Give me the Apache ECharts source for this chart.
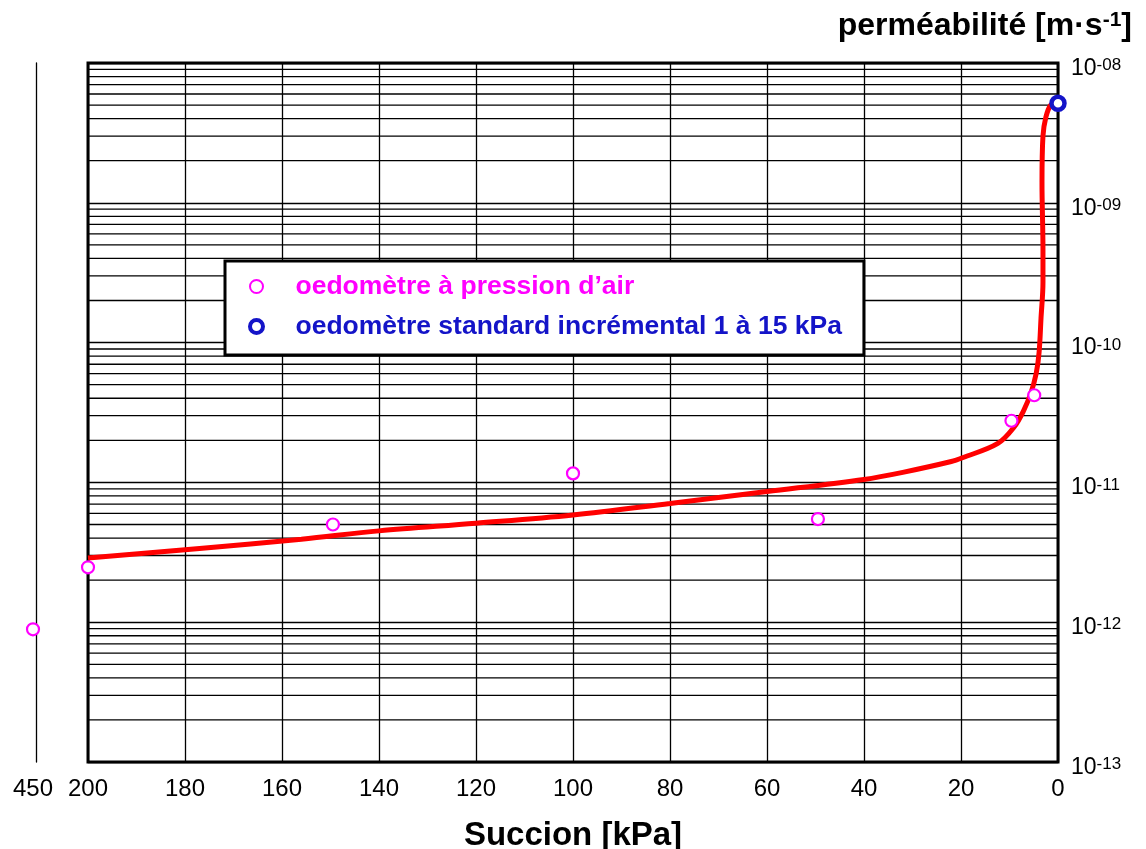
<!DOCTYPE html>
<html>
<head>
<meta charset="utf-8">
<script src="https://cdn.jsdelivr.net/npm/echarts@6/dist/echarts.min.js"></script>
<style>
  html, body { margin: 0; background: #fff; }
  #chart { width: 1146px; height: 849px; }
</style>
</head>
<body>
<div id="chart"></div>
<script>
// fitted curve (suction kPa, permeability m/s)
const curveSuction = [200, 177, 156, 140, 120, 100, 80, 60, 40, 32, 22, 19.7, 12.4, 9.0, 7.2, 5.6, 4.5, 3.9, 3.5, 3.1, 3.1, 3.3, 3.1, 2.5, 1.5, 0.5];
const curvePerm = [2.88e-12, 3.37e-12, 3.92e-12, 4.5e-12, 5.1e-12, 5.85e-12, 7.07e-12, 8.6e-12, 1.05e-11, 1.18e-11, 1.41e-11, 1.5e-11, 1.9e-11, 2.5e-11, 3.2e-11, 4.34e-11, 6.0e-11, 8.5e-11, 1.5e-10, 2.7e-10, 4.6e-10, 1.4e-9, 3.0e-9, 4.1e-9, 5.0e-9, 5.1e-9];

// oedometre a pression d'air
const airSuction = [200, 149.5, 100, 49.5, 9.6, 4.9];
const airPerm = [2.47e-12, 5.0e-12, 1.16e-11, 5.47e-12, 2.76e-11, 4.2e-11];
const farSuction = [450];
const farPerm = [8.9e-13];

// oedometre standard incremental
const stdSuction = [0];
const stdPerm = [5.15e-9];

const decades = [-13, -12, -11, -10, -9];
const minorSteps = [2, 3, 4, 5, 6, 7, 8, 9];

const airName = 'oedomètre à pression d\u2019air';
const stdName = 'oedomètre standard incrémental 1 à 15 kPa';
const magenta = '#ff00ff';
const blue = '#1414c8';
const font = 'Liberation Sans, Arial, sans-serif';

function zip(a, b) { return a.map((v, i) => [v, b[i]]); }

// minor log grid lines 2..9 in each decade
const minorValues = [];
decades.forEach(e => minorSteps.forEach(m => minorValues.push([0, m * Math.pow(10, e)])));

const chart = echarts.init(document.getElementById('chart'));

const option = {
  backgroundColor: '#fff',
  animation: false,
  textStyle: { fontFamily: font, color: '#000' },
  title: {
    text: '{t|perméabilité [m·s}{s|-1}{t|]}',
    right: 9,
    top: 5,
    textStyle: {
      rich: {
        t: { fontSize: 32, fontWeight: 'bold', fontFamily: font, color: '#000', lineHeight: 32 },
        s: { fontSize: 21, fontWeight: 'bold', fontFamily: font, color: '#000', lineHeight: 12, verticalAlign: 'top' }
      }
    }
  },
  legend: {
    orient: 'vertical',
    left: 225,
    top: 261,
    padding: [12, 22, 15, 23],
    itemGap: 13,
    itemWidth: 40,
    itemHeight: 13,
    backgroundColor: '#fff',
    borderColor: '#000',
    borderWidth: 3,
    borderRadius: 0,
    selectedMode: false,
    textStyle: { fontSize: 26.5, fontWeight: 'bold', fontFamily: font, padding: [0, 0, 0, 14] },
    data: [
      { name: airName, icon: 'circle', itemStyle: { color: '#fff', borderColor: magenta, borderWidth: 2 }, textStyle: { color: magenta } },
      { name: stdName, icon: 'circle', itemStyle: { color: '#fff', borderColor: blue, borderWidth: 4 }, textStyle: { color: blue } }
    ]
  },
  grid: [
    { left: 88, right: 88, top: 63, bottom: 87, outerBoundsMode: 'none', show: true, borderColor: '#000', borderWidth: 3, backgroundColor: 'transparent' },
    { left: 23, width: 20, top: 63, bottom: 87, outerBoundsMode: 'none', show: false }
  ],
  xAxis: [
    {
      gridIndex: 0,
      type: 'value',
      min: 0,
      max: 200,
      interval: 20,
      inverse: true,
      name: 'Succion [kPa]',
      nameLocation: 'middle',
      nameGap: 57,
      nameTextStyle: { fontSize: 33, fontWeight: 'bold', fontFamily: font, color: '#000' },
      axisLine: { show: false },
      axisTick: { show: false },
      axisLabel: { fontSize: 24, color: '#000', fontFamily: font, margin: 15 },
      splitLine: { show: true, lineStyle: { color: '#000', width: 1.3 } }
    },
    {
      gridIndex: 1,
      type: 'value',
      min: 440,
      max: 460,
      interval: 10,
      axisLine: { show: false },
      axisTick: { show: false },
      splitLine: { show: false },
      axisLabel: {
        fontSize: 24, color: '#000', fontFamily: font, margin: 15,
        formatter: v => (v === 450 ? '450' : '')
      }
    }
  ],
  yAxis: [
    {
      gridIndex: 0,
      type: 'log',
      logBase: 10,
      min: 1e-13,
      max: 1e-8,
      position: 'right',
      axisLine: { show: false },
      axisTick: { show: false },
      splitLine: { show: true, lineStyle: { color: '#000', width: 1.3 } },
      axisLabel: {
        margin: 13,
        fontSize: 23,
        padding: [11, 0, 0, 0],
        formatter: function (v) {
          const e = Math.round(Math.log10(v));
          return '{b|10}{s|-' + String(Math.abs(e)).padStart(2, '0') + '}';
        },
        rich: {
          b: { fontSize: 23, fontFamily: font, color: '#000', lineHeight: 23 },
          s: { fontSize: 17, fontFamily: font, color: '#000', lineHeight: 13, verticalAlign: 'top' }
        }
      }
    },
    {
      gridIndex: 1,
      type: 'log',
      logBase: 10,
      min: 1e-13,
      max: 1e-8,
      position: 'left',
      offset: -13,
      axisLine: { show: true, lineStyle: { color: '#000', width: 1.3 } },
      axisTick: { show: false },
      axisLabel: { show: false },
      splitLine: { show: false }
    }
  ],
  series: [
    {
      name: 'grille',
      type: 'custom',
      xAxisIndex: 0,
      yAxisIndex: 0,
      silent: true,
      z: 1,
      data: minorValues,
      renderItem: function (params, api) {
        const v = api.value(1);
        const a = api.coord([200, v]);
        const b = api.coord([0, v]);
        return {
          type: 'line',
          shape: { x1: a[0], y1: a[1], x2: b[0], y2: b[1] },
          style: { stroke: '#000', lineWidth: 1.3 }
        };
      }
    },
    {
      name: 'courbe',
      type: 'line',
      xAxisIndex: 0,
      yAxisIndex: 0,
      data: zip(curveSuction, curvePerm),
      smooth: 0.35,
      showSymbol: false,
      symbol: 'none',
      z: 3,
      lineStyle: { color: '#ff0000', width: 5 }
    },
    {
      name: airName,
      type: 'scatter',
      xAxisIndex: 0,
      yAxisIndex: 0,
      z: 4,
      symbol: 'circle',
      symbolSize: 12,
      itemStyle: { color: '#fff', borderColor: magenta, borderWidth: 2.2, opacity: 1 },
      data: zip(airSuction, airPerm)
    },
    {
      name: airName,
      type: 'scatter',
      xAxisIndex: 1,
      yAxisIndex: 1,
      z: 4,
      symbol: 'circle',
      symbolSize: 12,
      itemStyle: { color: '#fff', borderColor: magenta, borderWidth: 2.2, opacity: 1 },
      data: zip(farSuction, farPerm)
    },
    {
      name: stdName,
      type: 'scatter',
      xAxisIndex: 0,
      yAxisIndex: 0,
      z: 5,
      clip: false,
      symbol: 'circle',
      symbolSize: 13,
      itemStyle: { color: '#fff', borderColor: blue, borderWidth: 4.5, opacity: 1 },
      data: zip(stdSuction, stdPerm)
    }
  ]
};

chart.setOption(option);
</script>
</body>
</html>
